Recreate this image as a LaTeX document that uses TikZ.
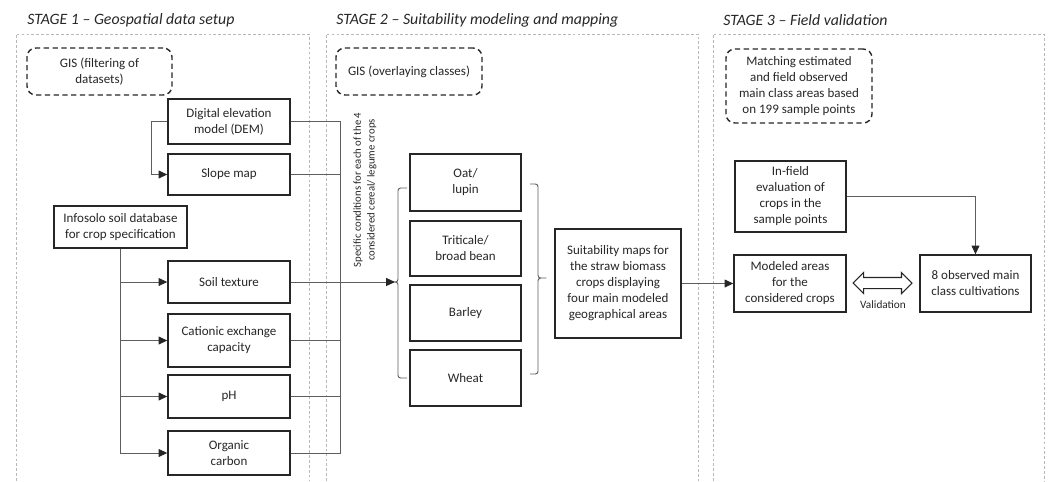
\documentclass[tikz,border=0pt]{standalone}
\usepackage{fontspec}
\setmainfont{Carlito}
\usetikzlibrary{arrows.meta, positioning, shapes.arrows}
\definecolor{linegray}{HTML}{5E5E5E}
\definecolor{panelgray}{HTML}{B8B8B8}
\definecolor{boxline}{HTML}{262626}

\begin{document}
\begin{tikzpicture}[
    x=0.02cm, y=-0.02cm,
    every node/.style={font=\fontsize{7.4}{9.1}\selectfont, text=boxline},
    stagelabel/.style={font=\fontsize{9}{11}\selectfont\itshape, anchor=west, inner sep=0pt},
    box/.style={
        rectangle,
        draw=boxline,
        line width=0.8pt,
        align=center,
        inner sep=1pt
    },
    toolbox/.style={draw=boxline, line width=0.8pt, dash pattern=on 3pt off 2pt, rounded corners=5pt, align=center},
    panel/.style={draw=panelgray, line width=0.4pt, dash pattern=on 1.6pt off 1.2pt},
    line/.style={draw=linegray, line width=0.55pt},
    arrow/.style={line, -{Triangle[length=5pt, width=4.5pt, color=boxline]}},
    bracket/.style={draw=linegray, line width=0.55pt, rounded corners=1.5pt}
]
\useasboundingbox (0,0) rectangle (1049,481);

% PANELS
\draw[panel] (16,481) -- (16,34) -- (309,34) -- (309,481);
\draw[panel] (326,481) -- (326,34) -- (698,34) -- (698,481);
\draw[panel] (713,481) -- (713,34) -- (1044,34) -- (1044,481);

\node[stagelabel] (stage1) at (27,20)  {STAGE 1 – Geospatial data setup};
\node[stagelabel] (stage2) at (336,20) {STAGE 2 – Suitability modeling and mapping};
\node[stagelabel] (stage3) at (723,20) {STAGE 3 – Field validation};

% STAGE 1
\node[toolbox, minimum width=2.9cm, minimum height=0.94cm] (gis1) at (99.5,71.5) {GIS (filtering of\\datasets)};

\node[box, minimum width=2.44cm, minimum height=0.9cm]  (dem)   at (229,121.5) {Digital elevation\\model (DEM)};
\node[box, minimum width=2.44cm, minimum height=0.82cm] (slope) at (229,174.5) {Slope map};
\node[box, minimum width=2.66cm, minimum height=0.84cm] (info)  at (120.5,227) {Infosolo soil database\\for crop specification};
\node[box, minimum width=2.44cm, minimum height=0.84cm] (soil)  at (229,282)   {Soil texture};
\node[box, minimum width=2.44cm, minimum height=1.06cm] (cec)   at (229,340.5) {Cationic exchange\\capacity};
\node[box, minimum width=2.44cm, minimum height=0.86cm] (ph)    at (229,396.5) {pH};
\node[box, minimum width=2.44cm, minimum height=0.88cm] (orgc)  at (229,453)   {Organic\\carbon};

% STAGE 2
\node[toolbox, minimum width=2.92cm, minimum height=0.94cm] (gis2) at (409,71.5) {GIS (overlaying classes)};

\node[rotate=90, align=center, font=\fontsize{6.1}{7.9}\selectfont] (cond) at (365,190)
    {Specific conditions for each of the 4\\considered cereal/ legume crops};

\node[box, minimum width=2.22cm, minimum height=1.14cm] (oat)    at (465.5,182.5) {Oat/\\lupin};
\node[box, minimum width=2.22cm, minimum height=1.1cm]  (trit)   at (465.5,248.5) {Triticale/\\broad bean};
\node[box, minimum width=2.22cm, minimum height=1.12cm] (barley) at (465.5,313)   {Barley};
\node[box, minimum width=2.22cm, minimum height=1.12cm] (wheat)  at (465.5,378)   {Wheat};

\node[box, minimum width=2.52cm, minimum height=2.18cm] (suit) at (618,283.5)
    {Suitability maps for\\the straw biomass\\crops displaying\\four main modeled\\geographical areas};

\coordinate (bus) at (340,0);
\coordinate (lbr) at (395,282);

% STAGE 3
\node[toolbox, minimum width=2.92cm, minimum height=1.48cm] (match) at (799,86)
    {Matching estimated\\and field observed\\main class areas based\\on 199 sample points};

\node[box, minimum width=2.22cm, minimum height=1.42cm] (infield) at (790.5,196.5) {In-field\\evaluation of\\crops in the\\sample points};
\node[box, minimum width=2.24cm, minimum height=1.14cm] (model)   at (790,283.5)   {Modeled areas\\for the\\considered crops};
\node[box, minimum width=2.22cm, minimum height=1.14cm] (obs)     at (975.5,283.5) {8 observed main\\class cultivations};

\node[shape=double arrow, draw=boxline, line width=0.6pt, minimum height=1.18cm,
      inner xsep=0pt, inner ysep=0.1cm, double arrow head extend=0.1cm] (valid) at (882.5,283) {};
\node[font=\fontsize{6.4}{7.5}\selectfont] (vlabel) at (883,305) {Validation};

% BRACKETS
\draw[bracket] (407,188) -- (398,188) -- (398,282) -- (393,282) -- (398,282) -- (398,378) -- (407,378);
\draw[bracket] (530,184) -- (538,184) -- (538,278) -- (548,278) -- (538,278) -- (538,374) -- (530,374);

% ARROWS
\draw[arrow] (dem.west) -- ++(-16,0) |- (slope.west);
\draw[arrow] (info.south) |- (soil.west);
\draw[arrow] (info.south) |- (cec.west);
\draw[arrow] (info.south) |- (ph.west);
\draw[arrow] (info.south) |- (orgc.west);

\draw[line] (dem.east) -- (dem.east -| bus) -- (bus |- orgc.east) -- (orgc.east);
\draw[line] (slope.east) -- (slope.east -| bus);
\draw[line] (cec.east) -- (cec.east -| bus);
\draw[line] (ph.east) -- (ph.east -| bus);
\draw[arrow] (soil.east) -- (lbr);

\draw[arrow] (suit.east) -- (model.west);
\draw[arrow] (infield.east) -| (obs.north);

\end{tikzpicture}
\end{document}
